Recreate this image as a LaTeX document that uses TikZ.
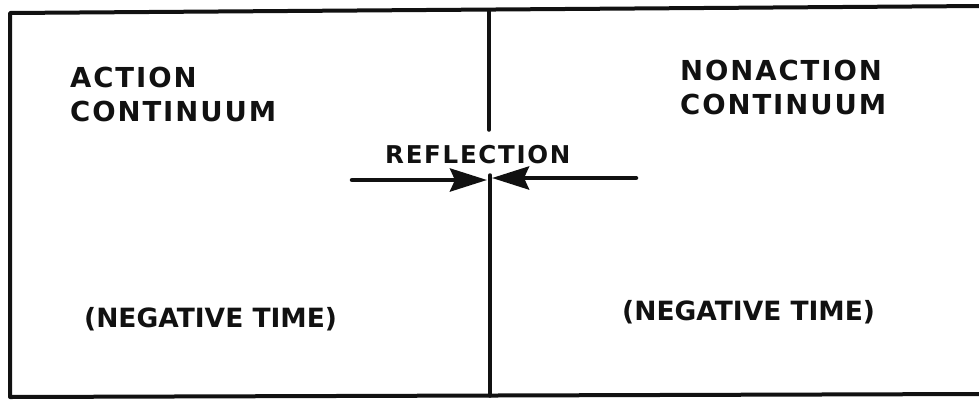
\documentclass[tikz,border=0pt]{standalone}
\usepackage{fontspec}
\setsansfont{DejaVu Sans}
\newfontfamily\rfwide[LetterSpace=7]{DejaVu Sans}
\usepackage{xcolor}
\usepackage{tikz}
\usetikzlibrary{arrows.meta,positioning}
\definecolor{rfInk}{HTML}{111111}
\tikzset{
  rf diagram/.style={x=1pt, y=-1pt, line cap=round, line join=round, text=rfInk},
  rf frame/.style={draw=rfInk, line width=4pt},
  rf divider/.style={draw=rfInk, line width=3.5pt},
  rf title/.style={font=\rfwide\bfseries\fontsize{27.5}{34}\selectfont,
    align=left, inner sep=0pt, anchor=north west},
  rf small/.style={font=\rfwide\bfseries\fontsize{24.5}{30}\selectfont,
    inner sep=0pt, anchor=north west},
  rf note/.style={font=\sffamily\bfseries\fontsize{26.5}{32}\selectfont,
    inner sep=0pt, anchor=base west},
  rf arrow/.style={-{Stealth[length=37pt, width=23pt, inset=5pt]},
    draw=rfInk, line width=4.5pt}
}
\begin{document}
\begin{tikzpicture}[rf diagram]
\useasboundingbox (0,0) rectangle (979,402);
% outer frame, open on the right
\draw[rf frame] (981,6) -- (10,13) -- (10,397) -- (981,394);
% middle divider, broken for the label
\coordinate (divtop) at (489,11);
\coordinate (divgap) at (489,130);
\coordinate (divmid) at (490,175);
\coordinate (divbot) at (490,396);
\draw[rf divider] (divtop) -- (divgap);
\draw[rf divider] (divmid) -- (divbot);
% labels
\node[rf title] (actlbl) at (70,67) {ACTION\\CONTINUUM};
\node[rf title] (nonlbl) at (680,60) {NONACTION\\CONTINUUM};
\node[rf small] (reflbl) at (385,145) {REFLECTION};
\node[rf note] (negleft) at (84,327) {(NEGATIVE TIME)};
\node[rf note] (negright) at (622,320) {(NEGATIVE TIME)};
% arrows meeting at the divider
\coordinate (lfrom) at (352,180);
\coordinate (lto) at (487,180);
\coordinate (rfrom) at (636,178);
\coordinate (rto) at (492,178);
\draw[rf arrow] (lfrom) -- (lto);
\draw[rf arrow] (rfrom) -- (rto);
\end{tikzpicture}
\end{document}
